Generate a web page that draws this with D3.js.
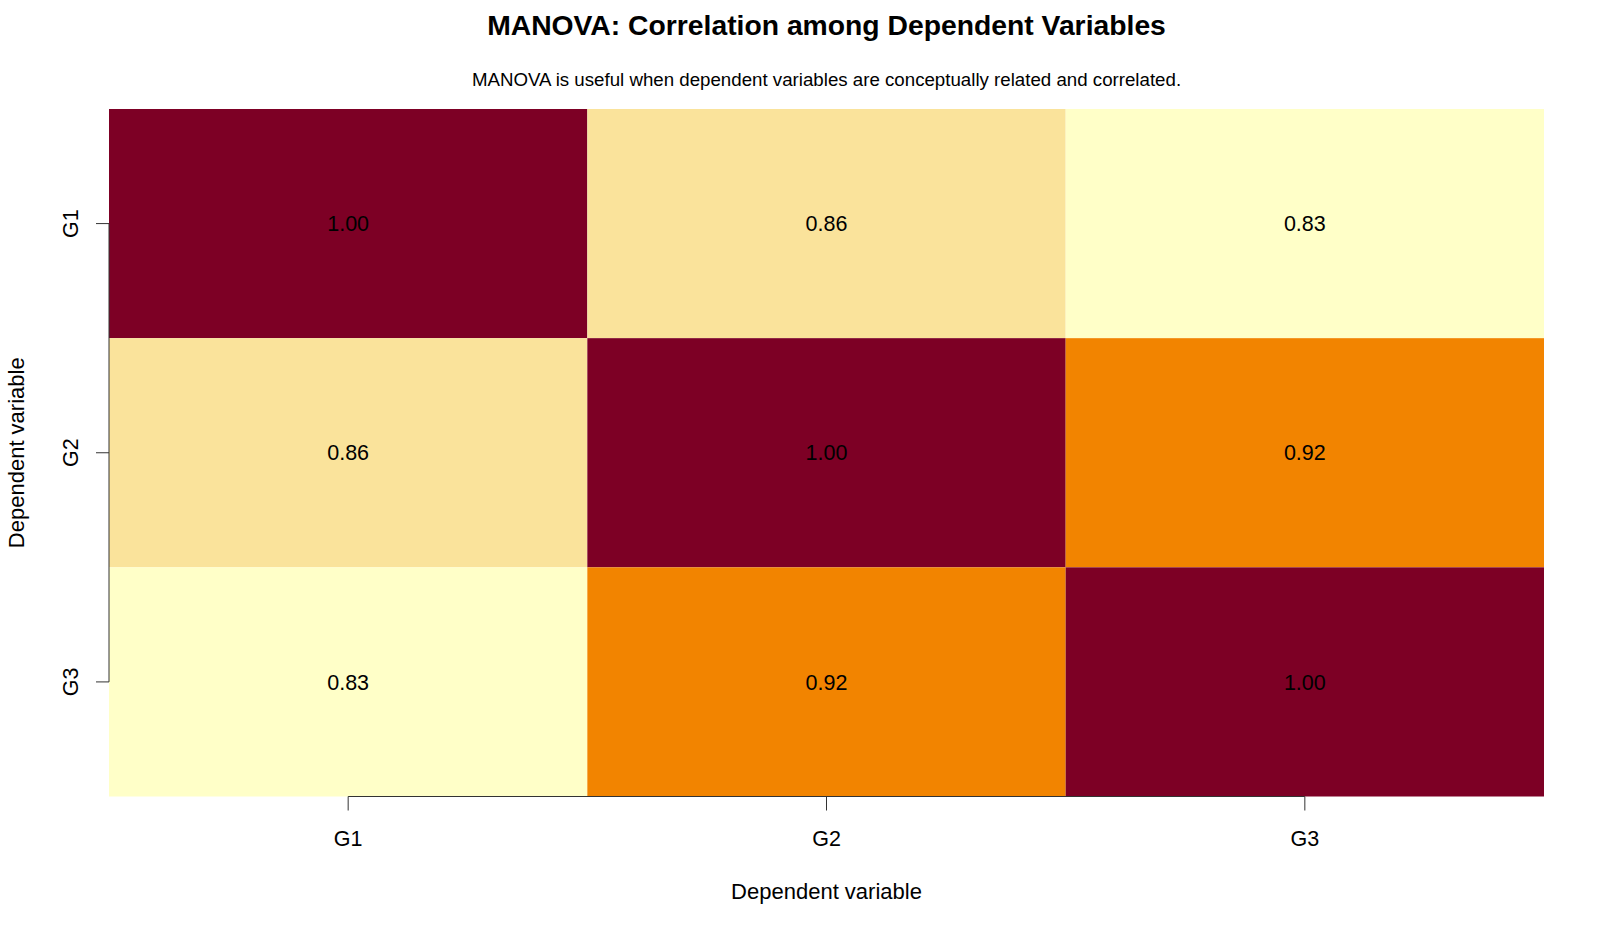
<!DOCTYPE html>
<html>
<head>
<meta charset="utf-8">
<script src="https://cdn.jsdelivr.net/npm/d3@7"></script>
<style>
  body { margin: 0; background: #fff; }
  svg text { font-family: "Liberation Sans", Arial, sans-serif; fill: #000; }
</style>
</head>
<body>
<svg id="chart" width="1600" height="933"></svg>
<script>
// data
var variables = ["G1", "G2", "G3"];
var corr = [
    [1.00, 0.86, 0.83],
    [0.86, 1.00, 0.92],
    [0.83, 0.92, 1.00]
];
var colorLevels = [0.83, 0.86, 0.92, 1.00];
var colorValues = ["#FFFFC8", "#FAE39B", "#F28400", "#7D0025"];

var svg = d3.select("#chart");

var plot = { left: 109, right: 1544, top: 109, bottom: 796.5 };

var x = d3.scaleBand().domain(variables).range([plot.left, plot.right]).padding(0);
var y = d3.scaleBand().domain(variables).range([plot.top, plot.bottom]).padding(0);
var color = d3.scaleOrdinal().domain(colorLevels).range(colorValues);

// flatten matrix into cells
var cells = [];
corr.forEach(function(row, i) {
    row.forEach(function(v, j) {
        cells.push({ row: variables[i], col: variables[j], value: v });
    });
});

svg.append("g").selectAll("rect")
    .data(cells)
    .enter().append("rect")
    .attr("x", function(d) { return x(d.col); })
    .attr("y", function(d) { return y(d.row); })
    .attr("width", x.bandwidth())
    .attr("height", y.bandwidth())
    .attr("fill", function(d) { return color(d.value); });

svg.append("g").selectAll("text")
    .data(cells)
    .enter().append("text")
    .attr("x", function(d) { return x(d.col) + x.bandwidth() / 2; })
    .attr("y", function(d) { return y(d.row) + y.bandwidth() / 2; })
    .attr("dy", "0.36em")
    .attr("text-anchor", "middle")
    .style("font-size", "21.5px")
    .text(function(d) { return d.value.toFixed(2); });

// axes, R style: line spans first to last tick
var xc = function(v) { return x(v) + x.bandwidth() / 2; };
var yc = function(v) { return y(v) + y.bandwidth() / 2; };

var ax = svg.append("g").attr("stroke", "#333").attr("stroke-width", 1);
ax.append("line")
    .attr("x1", xc(variables[0])).attr("x2", xc(variables[variables.length - 1]))
    .attr("y1", plot.bottom).attr("y2", plot.bottom);
ax.selectAll("line.xt").data(variables).enter().append("line")
    .attr("class", "xt")
    .attr("x1", xc).attr("x2", xc)
    .attr("y1", plot.bottom).attr("y2", plot.bottom + 14);
ax.append("line")
    .attr("x1", plot.left).attr("x2", plot.left)
    .attr("y1", yc(variables[0])).attr("y2", yc(variables[variables.length - 1]));
ax.selectAll("line.yt").data(variables).enter().append("line")
    .attr("class", "yt")
    .attr("x1", plot.left - 13).attr("x2", plot.left)
    .attr("y1", yc).attr("y2", yc);

svg.append("g").selectAll("text").data(variables).enter().append("text")
    .attr("x", xc)
    .attr("y", 846)
    .attr("text-anchor", "middle")
    .style("font-size", "21.5px")
    .text(function(d) { return d; });

svg.append("g").selectAll("text").data(variables).enter().append("text")
    .attr("transform", function(d) { return "translate(78," + yc(d) + ") rotate(-90)"; })
    .attr("text-anchor", "middle")
    .style("font-size", "21.5px")
    .text(function(d) { return d; });

// titles
var cx = (plot.left + plot.right) / 2;
svg.append("text")
    .attr("x", cx).attr("y", 899)
    .attr("text-anchor", "middle")
    .style("font-size", "22px")
    .text("Dependent variable");

svg.append("text")
    .attr("transform", "translate(24," + (plot.top + plot.bottom) / 2 + ") rotate(-90)")
    .attr("text-anchor", "middle")
    .style("font-size", "22px")
    .text("Dependent variable");

svg.append("text")
    .attr("x", cx).attr("y", 34.5)
    .attr("text-anchor", "middle")
    .style("font-size", "28.3px")
    .style("font-weight", "bold")
    .text("MANOVA: Correlation among Dependent Variables");

svg.append("text")
    .attr("x", cx).attr("y", 85.5)
    .attr("text-anchor", "middle")
    .style("font-size", "18.7px")
    .text("MANOVA is useful when dependent variables are conceptually related and correlated.");
</script>
</body>
</html>
